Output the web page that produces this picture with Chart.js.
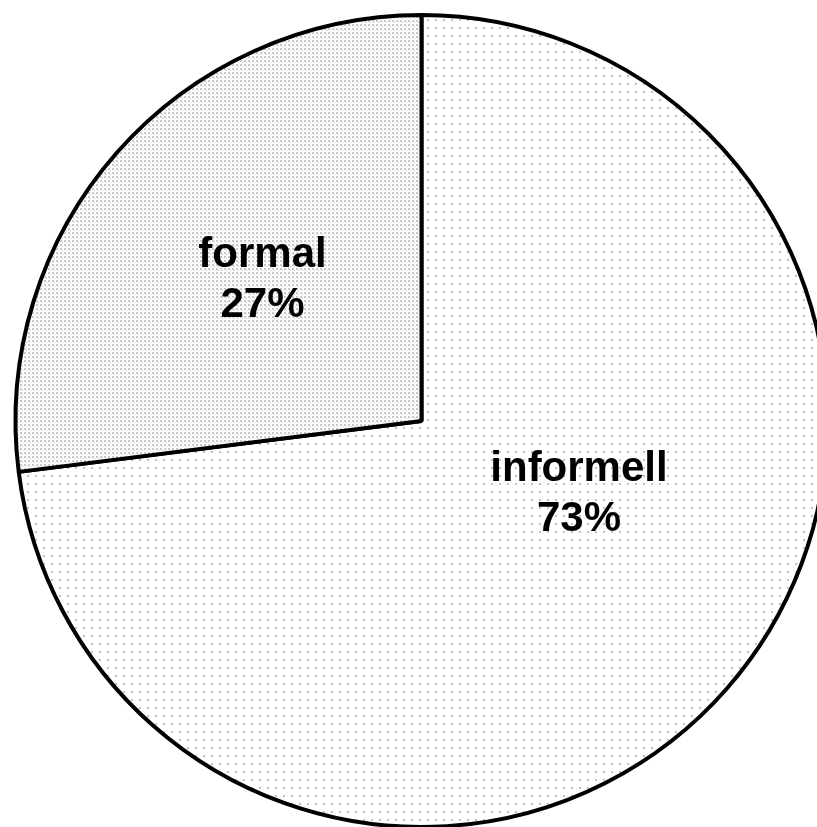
<!DOCTYPE html>
<html>
<head>
<meta charset="utf-8">
<script src="https://cdn.jsdelivr.net/npm/chart.js@4/dist/chart.umd.min.js"></script>
<style>
  html, body { margin: 0; padding: 0; background: #fff; overflow: hidden; }
  #wrap { position: absolute; left: 0; top: 0; }
</style>
</head>
<body>
<div id="wrap"><canvas id="pie" width="843" height="842"></canvas></div>
<script>
var categories = ["informell", "formal"];
var shares = [73, 27];
var pctLabels = ["73%", "27%"];

// dotted fills, like the old office patterns
function makePattern(size, dots, color) {
    var c = document.createElement('canvas');
    c.width = size; c.height = size;
    var g = c.getContext('2d');
    g.fillStyle = '#fff';
    g.fillRect(0, 0, size, size);
    g.fillStyle = color;
    dots.forEach(function (d) {
        g.fillRect(d[0], d[1], d[2], d[2]);
    });
    return g.createPattern(c, 'repeat');
}

var ctx = document.getElementById('pie').getContext('2d');
var sparse = makePattern(8, [[3, 3, 2]], '#c0c0c0');
var dense = makePattern(4, [[0, 0, 2], [2, 2, 1]], '#c8c8c8');

// text inside slices; angle in degrees (chart.js convention), r as share of radius
var sliceText = {
    id: 'sliceText',
    afterDatasetsDraw: function (chart, args, opts) {
        var meta = chart.getDatasetMeta(0);
        var c = chart.ctx;
        c.save();
        c.font = 'bold 42px "Liberation Sans", Arial, sans-serif';
        c.fillStyle = '#000';
        c.textAlign = 'center';
        c.textBaseline = 'middle';
        meta.data.forEach(function (arc, i) {
            var p = opts.spots[i];
            var a = p.angle != null ? p.angle * Math.PI / 180 : (arc.startAngle + arc.endAngle) / 2;
            var x = arc.x + Math.cos(a) * arc.outerRadius * p.r;
            var y = arc.y + Math.sin(a) * arc.outerRadius * p.r;
            c.fillText(categories[i], x, y - 25);
            c.fillText(pctLabels[i], x, y + 25);
        });
        c.restore();
    }
};

var chart = new Chart(ctx, {
    type: 'pie',
    data: {
        labels: categories,
        datasets: [{
            data: shares,
            backgroundColor: [sparse, dense],
            borderColor: '#000',
            borderWidth: 4,
            borderAlign: 'center'
        }]
    },
    options: {
        responsive: false,
        animation: false,
        radius: 406,
        layout: { padding: 0 },
        plugins: {
            legend: { display: false },
            tooltip: { enabled: false },
            sliceText: {
                spots: [{ angle: 25, r: 0.428 }, { angle: null, r: 0.522 }]
            }
        }
    },
    plugins: [sliceText]
});
</script>
</body>
</html>
